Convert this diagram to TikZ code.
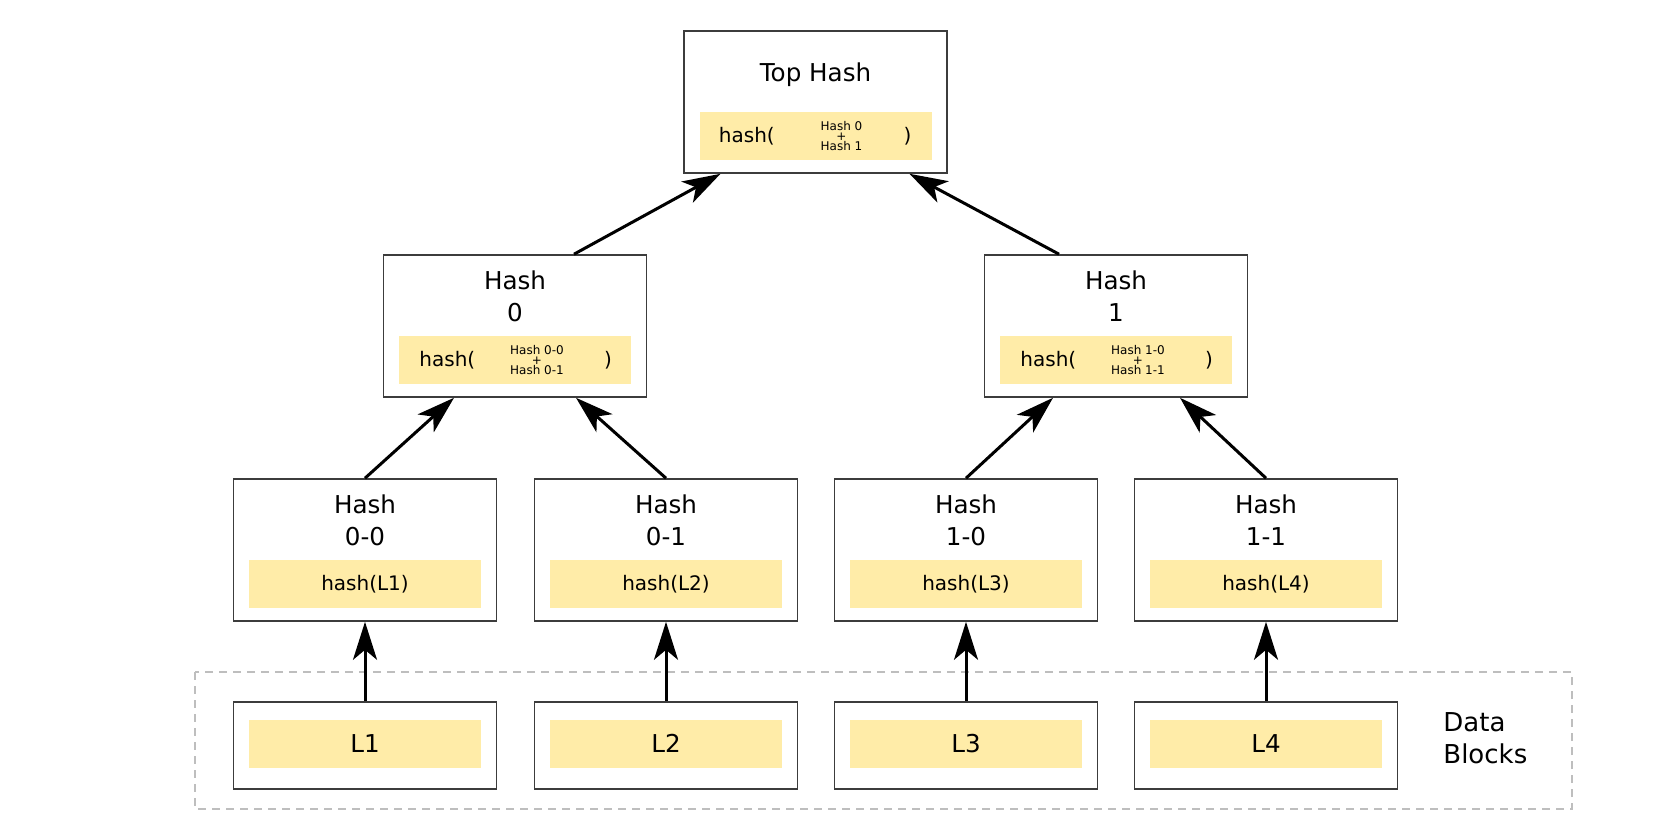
\documentclass[tikz,border=0pt]{standalone}
\usepackage{fontspec}
\setmainfont{DejaVu Sans}
\usetikzlibrary{arrows.meta,positioning}
\definecolor{hashyellow}{RGB}{255,236,168}
\definecolor{boxgray}{RGB}{60,60,60}
\definecolor{zonegray}{RGB}{190,190,190}

\tikzset{
  hashbox/.style={draw=boxgray, line width=0.8pt, fill=white, minimum width=131.5pt, minimum height=71pt, inner sep=0pt},
  databox/.style={hashbox, minimum height=43.5pt},
  fillbox/.style={fill=hashyellow, minimum width=116pt, minimum height=24pt, inner sep=0pt},
  titletext/.style={font=\fontsize{12.3}{16}\selectfont, align=center, inner sep=0pt},
  hashtext/.style={font=\fontsize{10}{12}\selectfont, inner sep=0pt},
  tinytext/.style={font=\fontsize{6}{5}\selectfont, align=center, inner sep=0pt},
  link/.style={line width=1.5pt, -{Stealth[length=19pt,width=12pt,inset=5pt]}},
  zone/.style={draw=zonegray, line width=1pt, dash pattern=on 4pt off 3pt},
}

\begin{document}
\begin{tikzpicture}[x=0.5pt,y=-0.5pt]
    \useasboundingbox (0,0) rectangle (1680,840);

    % data block frame
    \draw[zone] (195,672) rectangle (1572,809);
    \node[titletext, font=\fontsize{13}{16}\selectfont, anchor=west, align=left] (datalabel) at (1443,738) {Data\\Blocks};

    % leaves and data blocks
    \foreach \i/\x/\lab/\blk in {1/365/0-0/L1, 2/666/0-1/L2, 3/966/1-0/L3, 4/1266/1-1/L4} {
        \node[hashbox] (leaf\i) at (\x,550) {};
        \node[titletext] at ([yshift=-21pt]leaf\i.north) {Hash\\\lab};
        \node[fillbox, hashtext] at ([yshift=19pt]leaf\i.south) {hash(\blk)};
        \node[databox] (data\i) at (\x,745.5) {};
        \node[fillbox, titletext] at ([yshift=1pt]data\i.center) {\blk};
        \draw[link] (data\i.north) -- (leaf\i.south);
    }

    % middle level
    \node[hashbox] (mid0) at (515,326) {};
    \node[titletext] at ([yshift=-21pt]mid0.north) {Hash\\0};
    \node[fillbox] (fill0) at ([yshift=19pt]mid0.south) {};
    \node[hashtext, anchor=west] at ([xshift=-48pt]fill0.center) {hash(};
    \node[tinytext] at ([xshift=11pt]fill0.center) {Hash 0-0\\+\\Hash 0-1};
    \node[hashtext] at ([xshift=46.5pt]fill0.center) {)};

    \node[hashbox] (mid1) at (1116,326) {};
    \node[titletext] at ([yshift=-21pt]mid1.north) {Hash\\1};
    \node[fillbox] (fill1) at ([yshift=19pt]mid1.south) {};
    \node[hashtext, anchor=west] at ([xshift=-48pt]fill1.center) {hash(};
    \node[tinytext] at ([xshift=11pt]fill1.center) {Hash 1-0\\+\\Hash 1-1};
    \node[hashtext] at ([xshift=46.5pt]fill1.center) {)};

    % top
    \node[hashbox] (top) at (815.5,102) {};
    \node[titletext] at ([yshift=-22.5pt]top.north) {Top Hash};
    \node[fillbox] (filltop) at ([yshift=19pt]top.south) {};
    \node[hashtext, anchor=west] at ([xshift=-48.5pt]filltop.center) {hash(};
    \node[tinytext] at ([xshift=13pt]filltop.center) {Hash 0\\+\\Hash 1};
    \node[hashtext] at ([xshift=46pt]filltop.center) {)};

    % links
    \draw[link] (leaf1.north) -- ([xshift=-30.5pt]mid0.south);
    \draw[link] (leaf2.north) -- ([xshift=30.5pt]mid0.south);
    \draw[link] (leaf3.north) -- ([xshift=-31.5pt]mid1.south);
    \draw[link] (leaf4.north) -- ([xshift=32pt]mid1.south);
    \draw[link] ([xshift=29.5pt]mid0.north) -- ([xshift=-47.5pt]top.south);
    \draw[link] ([xshift=-28.5pt]mid1.north) -- ([xshift=47pt]top.south);

\end{tikzpicture}
\end{document}
